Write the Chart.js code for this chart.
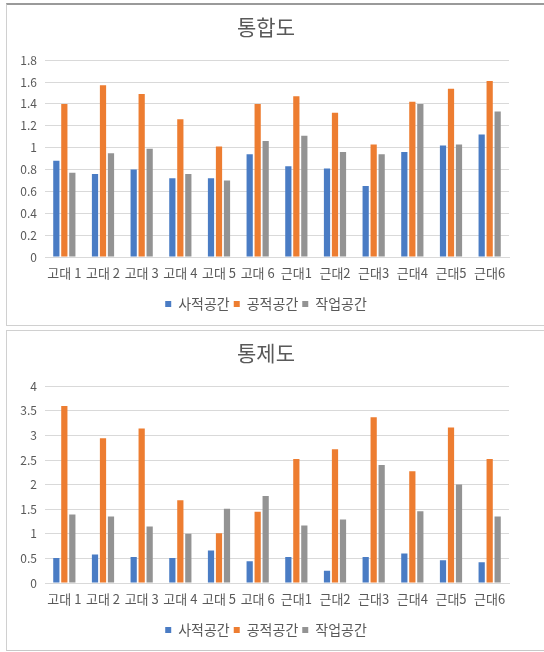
<!DOCTYPE html>
<html>
<head>
<meta charset="utf-8">
<script src="https://cdn.jsdelivr.net/npm/chart.js@4/dist/chart.umd.min.js"></script>
<style>
  html, body { margin: 0; padding: 0; background: #fff; }
  body { width: 544px; height: 652px; position: relative; overflow: hidden; }
  .panel { position: absolute; left: 6px; width: 545px; background: #fff; box-sizing: border-box; }
  #p1 { top: 3px; height: 323px; border-top: 2px solid #9a9a9a; border-left: 1px solid #d0d0d0; border-bottom: 1px solid #d0d0d0; }
  #p2 { top: 330px; height: 321px; border-top: 1px solid #d0d0d0; border-left: 1px solid #d0d0d0; border-bottom: 1px solid #c8c8c8; }
  .panel canvas { position: absolute; left: 0; top: 0; }
</style>
</head>
<body>
<div class="panel" id="p1"><canvas id="chart1" width="538" height="319"></canvas></div>
<div class="panel" id="p2"><canvas id="chart2" width="538" height="319"></canvas></div>
<script>
// 공간 구분 (x축)
const categorias = ['고대 1', '고대 2', '고대 3', '고대 4', '고대 5', '고대 6', '근대1', '근대2', '근대3', '근대4', '근대5', '근대6'];
const seriesNames = ['사적공간', '공적공간', '작업공간'];
const colors = ['#4a7cc4', '#ed7d31', '#939393'];

// 통합도
const integSajeok = [0.88, 0.76, 0.80, 0.72, 0.72, 0.94, 0.83, 0.81, 0.65, 0.96, 1.02, 1.12];
const integGongjeok = [1.40, 1.57, 1.49, 1.26, 1.01, 1.40, 1.47, 1.32, 1.03, 1.42, 1.54, 1.61];
const integJakeop = [0.77, 0.95, 0.99, 0.76, 0.70, 1.06, 1.11, 0.96, 0.94, 1.40, 1.03, 1.33];
const ticksTop = [0, 0.2, 0.4, 0.6, 0.8, 1, 1.2, 1.4, 1.6, 1.8];

// 통제도
const ctrlSajeok = [0.51, 0.58, 0.53, 0.51, 0.66, 0.44, 0.53, 0.25, 0.53, 0.60, 0.46, 0.42];
const ctrlGongjeok = [3.60, 2.94, 3.14, 1.68, 1.01, 1.45, 2.52, 2.72, 3.37, 2.27, 3.16, 2.52];
const ctrlJakeop = [1.39, 1.35, 1.15, 1.00, 1.51, 1.77, 1.17, 1.29, 2.40, 1.46, 2.00, 1.35];
const ticksBottom = [0, 0.5, 1, 1.5, 2, 2.5, 3, 3.5, 4];

const fontFam = "'Noto Sans CJK KR', 'Noto Sans', sans-serif";
const textColor = '#595959';

function drawChart(id, titulo, valores, ticks) {
  let canva = document.getElementById(id).getContext('2d');
  let datasets = [];
  for (let i = 0; i < valores.length; i++) {
    datasets.push({
      label: seriesNames[i],
      data: valores[i],
      backgroundColor: colors[i],
      categoryPercentage: 0.62,
      barPercentage: 0.78
    });
  }
  return new Chart(canva, {
    type: 'bar',
    data: { labels: categorias, datasets: datasets },
    options: {
      responsive: false,
      animation: false,
      layout: { padding: { left: 0, right: 20, top: 0, bottom: 3 } },
      plugins: {
        tooltip: { enabled: false },
        title: {
          display: true,
          text: titulo,
          color: textColor,
          font: { family: fontFam, size: 21, weight: 'normal' },
          padding: { top: 9, bottom: 21 }
        },
        legend: {
          position: 'bottom',
          labels: {
            color: textColor,
            font: { family: fontFam, size: 14 },
            boxWidth: 6,
            boxHeight: 6,
            padding: 4
          }
        }
      },
      scales: {
        x: {
          afterFit: function (scale) { scale.height = 36; },
          grid: { display: false, drawTicks: false },
          border: { color: '#d9d9d9' },
          ticks: {
            color: textColor,
            font: { family: fontFam, size: 13, lineHeight: 1 },
            padding: 10,
            maxRotation: 0,
            autoSkip: false
          }
        },
        y: {
          min: ticks[0],
          max: ticks[ticks.length - 1],
          afterFit: function (scale) { scale.width = 38; },
          afterBuildTicks: function (scale) {
            scale.ticks = ticks.map(function (v) { return { value: v }; });
          },
          grid: { color: '#d9d9d9', drawTicks: false },
          border: { display: false },
          ticks: {
            color: textColor,
            font: { family: fontFam, size: 12 },
            padding: 8,
            callback: function (v) { return String(+Number(v).toFixed(2)); }
          }
        },
        // eje vacio a la derecha, solo para centrar titulo y leyenda
        yDer: {
          position: 'right',
          afterFit: function (scale) { scale.width = 16; },
          grid: { display: false, drawTicks: false },
          border: { display: false },
          ticks: { display: false }
        }
      }
    }
  });
}

drawChart('chart1', '통합도', [integSajeok, integGongjeok, integJakeop], ticksTop);
drawChart('chart2', '통제도', [ctrlSajeok, ctrlGongjeok, ctrlJakeop], ticksBottom);
</script>
</body>
</html>
